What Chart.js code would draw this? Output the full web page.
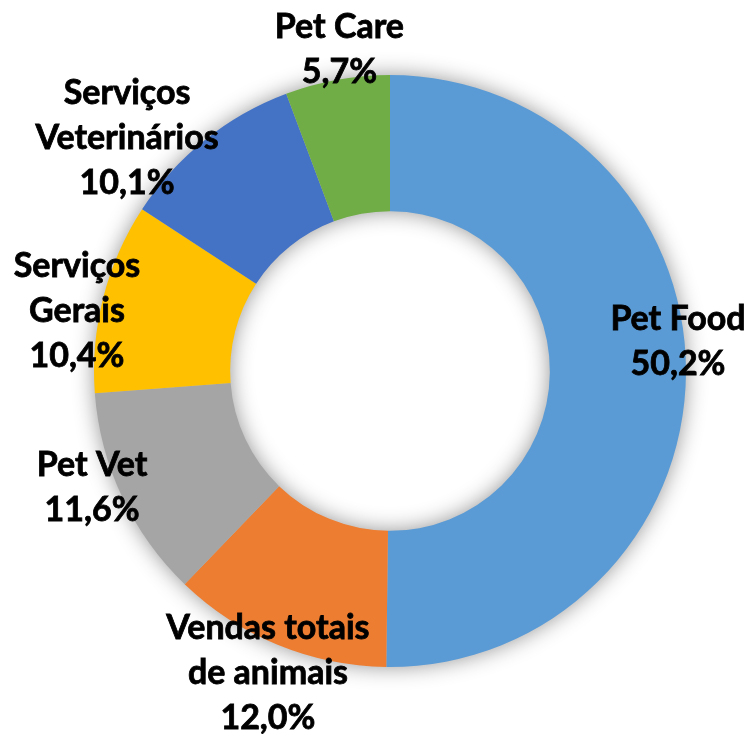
<!DOCTYPE html>
<html>
<head>
<meta charset="utf-8">
<script src="https://cdn.jsdelivr.net/npm/chart.js@4/dist/chart.umd.min.js"></script>
<style>
  html, body { margin: 0; padding: 0; background: #fff; }
  #wrap { width: 751px; height: 734px; }
</style>
</head>
<body>
<div id="wrap"><canvas id="donut" width="751" height="734"></canvas></div>
<script>
const categorias = ['Pet Food', 'Vendas totais de animais', 'Pet Vet', 'Serviços Gerais', 'Serviços Veterinários', 'Pet Care'];
const rotulos = [['Pet Food'], ['Vendas totais', 'de animais'], ['Pet Vet'], ['Serviços', 'Gerais'], ['Serviços', 'Veterinários'], ['Pet Care']];
const valores = [50.2, 12.0, 11.6, 10.4, 10.1, 5.7];
const cores = ['#5B9BD5', '#ED7D31', '#A5A5A5', '#FFC000', '#4472C4', '#70AD47'];

// onde fica cada rótulo (fator do raio externo e desvio do ângulo em graus)
const fatorRaio = [0.978, 1.10, 1.081, 1.077, 1.186, 1.098];
const desvioAngulo = [-6.2, -0.3, 3.8, -3.5, -9.8, 1.3];

function fmt(v) {
  return v.toFixed(1).replace('.', ',') + '%';
}

// sombra suave por trás do anel
const sombraAnel = {
  id: 'sombraAnel',
  beforeDatasetsDraw(chart) {
    const arc = chart.getDatasetMeta(0).data[0];
    if (!arc) return;
    const { x, y, outerRadius, innerRadius } = arc.getProps(['x', 'y', 'outerRadius', 'innerRadius'], true);
    const ctx = chart.ctx;
    ctx.save();
    ctx.shadowColor = 'rgba(0,0,0,0.45)';
    ctx.shadowBlur = 22;
    ctx.fillStyle = '#bbbbbb';
    ctx.beginPath();
    ctx.arc(x, y, outerRadius - 1, 0, Math.PI * 2);
    ctx.arc(x, y, innerRadius + 1, 0, Math.PI * 2, true);
    ctx.fill();
    ctx.restore();
  }
};

const rotulosFatia = {
  id: 'rotulosFatia',
  afterDatasetsDraw(chart) {
    const ctx = chart.ctx;
    const meta = chart.getDatasetMeta(0);
    ctx.save();
    ctx.font = 'bold 34px Lato';
    ctx.fillStyle = '#000';
    ctx.strokeStyle = '#000';
    ctx.lineWidth = 0.8;
    ctx.textAlign = 'center';
    ctx.textBaseline = 'middle';
    const lh = 45;
    meta.data.forEach((arc, i) => {
      const p = arc.getProps(['x', 'y', 'startAngle', 'endAngle', 'outerRadius'], true);
      const ang = (p.startAngle + p.endAngle) / 2 + desvioAngulo[i] * Math.PI / 180;
      const r = p.outerRadius * fatorRaio[i];
      const cx = p.x + Math.cos(ang) * r;
      const cy = p.y + Math.sin(ang) * r;
      const linhas = rotulos[i].concat([fmt(valores[i])]);
      const y0 = cy - (linhas.length - 1) * lh / 2;
      linhas.forEach((t, k) => {
        ctx.fillText(t, cx, y0 + k * lh);
        ctx.strokeText(t, cx, y0 + k * lh);
      });
    });
    ctx.restore();
  }
};

new Chart(document.getElementById('donut'), {
  type: 'doughnut',
  data: {
    labels: categorias,
    datasets: [{
      data: valores,
      backgroundColor: cores,
      borderWidth: 0
    }]
  },
  options: {
    responsive: false,
    animation: false,
    cutout: '54%',
    layout: { padding: { left: 94, right: 65, top: 75, bottom: 67 } },
    plugins: {
      legend: { display: false },
      tooltip: { enabled: false }
    }
  },
  plugins: [sombraAnel, rotulosFatia]
});
</script>
</body>
</html>
